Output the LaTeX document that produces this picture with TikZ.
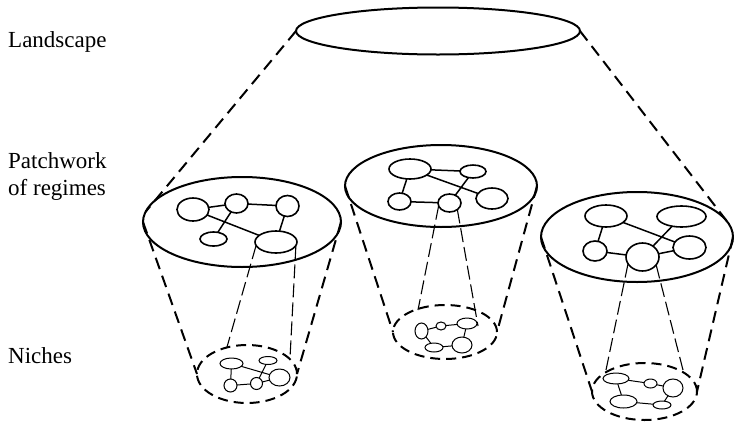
\documentclass[tikz,border=0pt]{standalone}
\usepackage{fontspec}
\setmainfont{Liberation Serif}
\usetikzlibrary{shapes.geometric}
\begin{document}
\begin{tikzpicture}[x=1pt,y=-1pt,
 big/.style={draw,ellipse,line width=2pt,inner sep=0pt,outer sep=0pt},
 gnode/.style={draw,ellipse,line width=1.6pt,inner sep=0pt,outer sep=0pt},
 sn/.style={draw,ellipse,line width=1pt,inner sep=0pt,outer sep=0pt},
 niche/.style={draw,ellipse,line width=2pt,dash pattern=on 10pt off 6pt,inner sep=0pt,outer sep=0pt},
 cone/.style={line width=2pt,dash pattern=on 12pt off 7pt},
 thinline/.style={line width=1.1pt,dash pattern=on 14pt off 5pt},
 gedge/.style={line width=1.5pt},
 sedge/.style={line width=1pt},
 lbl/.style={anchor=base west,inner sep=0pt,font=\fontsize{23}{27}\selectfont,align=left}]
\useasboundingbox (0,0) rectangle (734,421);

% labels
\node[lbl] (t1) at (8,47) {Landscape};
\node[lbl] (t2) at (8,195) {Patchwork\\of regimes};
\node[lbl] (t3) at (8,363) {Niches};

% big ellipses
\node[big,minimum width=284pt,minimum height=47pt] (T) at (438,31) {};
\node[big,minimum width=198pt,minimum height=90pt] (L) at (242,222) {};
\node[big,minimum width=192pt,minimum height=82pt] (M) at (441,186) {};
\node[big,minimum width=192pt,minimum height=90pt] (R) at (637,237) {};

% niches
\node[niche,minimum width=100pt,minimum height=58pt] (LN) at (247,374) {};
\node[niche,minimum width=104pt,minimum height=54pt] (MN) at (445,332) {};
\node[niche,minimum width=105pt,minimum height=57pt] (RN) at (644.5,391.5) {};

% landscape to regimes
\draw[cone] (T.west) -- (L.174);
\draw[cone] (T.east) -- (R.10);

% cones
\draw[cone] (L.west) -- (LN.west);
\draw[cone] (L.east) -- (LN.east);
\draw[cone] (M.west) -- (MN.west);
\draw[cone] (M.east) -- (MN.east);
\draw[cone] (R.west) -- (RN.west);
\draw[cone] (R.east) -- (RN.east);

% left graph
\node[gnode,minimum width=32pt,minimum height=23pt] (LA) at (193,209.5) {};
\node[gnode,minimum width=23pt,minimum height=19pt] (LB) at (236.5,203.5) {};
\node[gnode,minimum width=23pt,minimum height=21pt] (LC) at (287.5,206) {};
\node[gnode,minimum width=27pt,minimum height=14pt] (LD) at (213.5,239) {};
\node[gnode,minimum width=42pt,minimum height=22pt] (LE) at (276,242) {};
\draw[gedge] (LA) -- (LB) (LB) -- (LC) (LC) -- (LE) (LA) -- (LE) (LB) -- (LD);

% middle graph
\node[gnode,minimum width=42pt,minimum height=20pt] (MA) at (410,169) {};
\node[gnode,minimum width=26pt,minimum height=13pt] (MB) at (473,171.5) {};
\node[gnode,minimum width=23pt,minimum height=17pt] (MC) at (399.5,201.5) {};
\node[gnode,minimum width=23pt,minimum height=18pt] (MD) at (449.5,203) {};
\node[gnode,minimum width=32pt,minimum height=21pt] (ME) at (492,198.5) {};
\draw[gedge] (MA) -- (MB) (MA) -- (MC) (MC) -- (MD) (MA) -- (ME) (MB) -- (MD);

% right graph
\node[gnode,minimum width=42pt,minimum height=22pt] (RA) at (606,216) {};
\node[gnode,minimum width=49pt,minimum height=21pt] (RB) at (681.5,216.5) {};
\node[gnode,minimum width=24pt,minimum height=20pt] (RC) at (595,251) {};
\node[gnode,minimum width=33pt,minimum height=28pt] (RD) at (642.5,257) {};
\node[gnode,minimum width=33pt,minimum height=23pt] (RE) at (689.5,247.5) {};
\draw[gedge] (RA) -- (RC) (RC) -- (RD) (RA) -- (RE) (RB) -- (RD) (RD) -- (RE);

% left niche graph
\node[sn,minimum width=23pt,minimum height=11pt] (La) at (231.5,363.5) {};
\node[sn,minimum width=18pt,minimum height=8pt] (Lb) at (268,360.5) {};
\node[sn,minimum width=13pt,minimum height=13pt] (Lc) at (230.5,385.5) {};
\node[sn,minimum width=12pt,minimum height=12pt] (Ld) at (256.5,383.5) {};
\node[sn,minimum width=21pt,minimum height=17pt] (Le) at (279.5,377.5) {};
\draw[sedge] (La) -- (Lc) (Lc) -- (Ld) (Ld) -- (Le) (La) -- (Le) (Lb) -- (Ld);

% middle niche graph
\node[sn,minimum width=13pt,minimum height=16pt] (Ma) at (421.5,331) {};
\node[sn,minimum width=10pt,minimum height=8pt] (Mb) at (441,326) {};
\node[sn,minimum width=20pt,minimum height=11pt] (Mc) at (467,323.5) {};
\node[sn,minimum width=18pt,minimum height=9pt] (Md) at (434,347.5) {};
\node[sn,minimum width=20pt,minimum height=16pt] (Me) at (462,345) {};
\draw[sedge] (Ma) -- (Mb) (Mb) -- (Mc) (Mc) -- (Me) (Ma) -- (Md) (Md) -- (Me);

% right niche graph
\node[sn,minimum width=26pt,minimum height=11pt] (Ra) at (616,378.5) {};
\node[sn,minimum width=13pt,minimum height=9pt] (Rb) at (650.5,383.5) {};
\node[sn,minimum width=20pt,minimum height=18pt] (Rc) at (673,388) {};
\node[sn,minimum width=27pt,minimum height=13pt] (Rd) at (623.5,401.5) {};
\node[sn,minimum width=18pt,minimum height=8pt] (Re) at (662,405) {};
\draw[sedge] (Ra) -- (Rb) (Rb) -- (Rc) (Ra) -- (Rd) (Rd) -- (Re) (Rc) -- (Re);

% thin projection lines
\coordinate (l1) at (227,347);
\coordinate (l2) at (290,358);
\coordinate (m1) at (418,310);
\coordinate (m2) at (478,326);
\coordinate (r1) at (606,370);
\coordinate (r2) at (683,370);
\draw[thinline] (LE.190) -- (l1);
\draw[thinline] (LE.-10) -- (l2);
\draw[thinline] (MD.195) -- (m1);
\draw[thinline] (MD.-40) -- (m2);
\draw[thinline] (RD.205) -- (r1);
\draw[thinline] (RD.-30) -- (r2);
\end{tikzpicture}
\end{document}
